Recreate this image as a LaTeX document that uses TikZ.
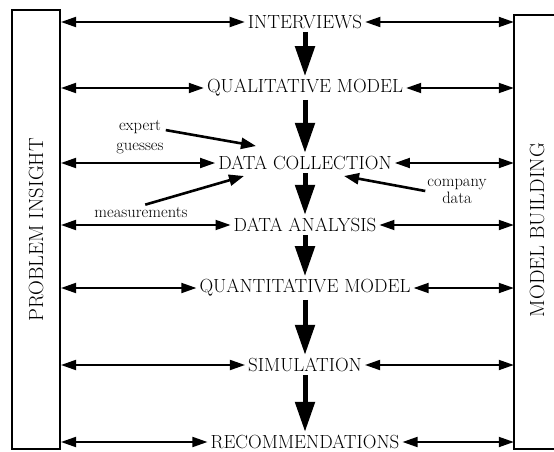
\documentclass[tikz,border=0pt]{standalone}
\usepackage{fontspec}
\usetikzlibrary{arrows.meta,positioning,calc}

\begin{document}
\begin{tikzpicture}[x=1pt,y=-1pt,
  stage/.style={inner sep=3pt,font=\fontsize{19}{22}\selectfont},
  side/.style={rotate=90,font=\fontsize{20.5}{22}\selectfont},
  note/.style={inner sep=2pt,align=center,font=\fontsize{16.5}{17}\selectfont},
  link/.style={{Triangle[length=15pt,width=10pt]}-{Triangle[length=15pt,width=10pt]},line width=1.8pt},
  flow/.style={-{Triangle[length=30pt,width=19pt]},line width=5pt},
  feed/.style={-{Triangle[length=15pt,width=11pt]},line width=2.6pt},
  frame/.style={line width=2pt}]
\useasboundingbox (0,0) rectangle (554,452);
% side boxes
\node[frame,draw,minimum width=48pt,minimum height=439pt,inner sep=0pt] (pi) at (36,229.5) {};
\node[minimum width=42pt,minimum height=434pt,inner sep=0pt] (mb) at (535,232) {};
\draw[frame] (mb.north east) -- (mb.north west) -- (mb.south west) -- (mb.south east);
\node[side] (pil) at (36,230) {PROBLEM INSIGHT};
\node[side] (mbl) at (537,230) {MODEL BUILDING};
% stages
\foreach \y/\n/\t in {22/intv/INTERVIEWS,88/qual/QUALITATIVE MODEL,163/coll/DATA COLLECTION,
  225/anal/DATA ANALYSIS,288/quan/QUANTITATIVE MODEL,365/sim/SIMULATION,442/rec/RECOMMENDATIONS}
  \node[stage] (\n) at (305,\y) {\t};
\foreach \n in {intv,qual,coll,anal,quan,sim,rec}{
  \draw[link] (pi.east |- \n) -- (\n.west);
  \draw[link] (\n.east) -- (mb.west |- \n);}
\foreach \a/\b in {intv/qual,qual/coll,coll/anal,anal/quan,quan/sim,sim/rec}
  \draw[flow] (\a) -- (\b);
% data sources
\node[note] (exp) at (140,137) {expert\\[3pt]guesses};
\node[note] (meas) at (141,212) {measurements};
\node[note] (comp) at (457,191) {company\\data};
\coordinate (expH) at (256,146);
\coordinate (measH) at (244,176);
\coordinate (compH) at (344,176);
\draw[feed] (exp.15) -- (expH);
\draw[feed] (meas.60) -- (measH);
\draw[feed] (comp.west) -- (compH);
\end{tikzpicture}
\end{document}
